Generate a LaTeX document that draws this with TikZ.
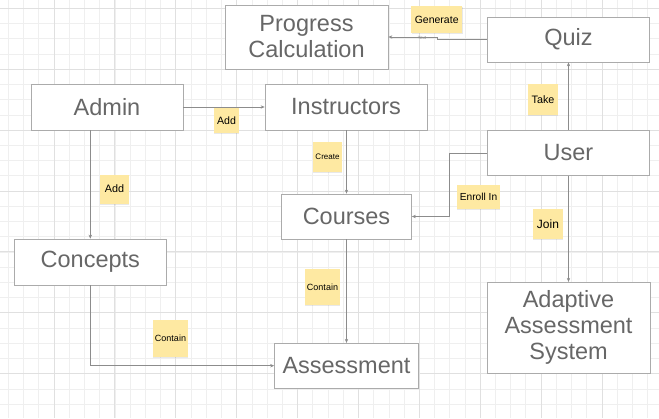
\documentclass[tikz,border=0pt]{standalone}
\usepackage{fontspec}
\setmainfont{Liberation Sans}
\usetikzlibrary{arrows.meta, positioning, shadows}
\definecolor{gridminor}{HTML}{EFEFEF}
\definecolor{gridmajor}{HTML}{E0E0E0}
\definecolor{boxline}{HTML}{ABABAB}
\definecolor{boxtext}{HTML}{676767}
\definecolor{connline}{HTML}{8C8C8C}
\definecolor{notefill}{HTML}{FEE9A2}

\begin{document}
\begin{tikzpicture}[x=1pt,y=-1pt,
    box/.style={draw=boxline,fill=white,line width=0.7pt,text=boxtext,font=\fontsize{23.5}{26}\selectfont,align=center,inner sep=0pt},
    note/.style={fill=notefill,text=black,inner sep=0pt,drop shadow={shadow xshift=0.4pt,shadow yshift=-1.4pt,opacity=0.18}},
    conn/.style={draw=connline,line width=0.6pt,-{Stealth[length=4pt,width=3.4pt]}}]
    \useasboundingbox (0,0) rectangle (659,418);
    \fill[white] (0,0) rectangle (659,418);

    % background grid
    \foreach \i in {0,...,43} {
      \draw[gridminor,line width=0.6pt] (8.3+\i*15.22,0) -- (8.3+\i*15.22,418);
    }
    \foreach \i in {0,...,27} {
      \draw[gridminor,line width=0.6pt] (0,8.3+\i*15.22) -- (659,8.3+\i*15.22);
    }
    \foreach \i in {3,7,...,43} {
      \draw[gridmajor,line width=0.7pt] (8.3+\i*15.22,0) -- (8.3+\i*15.22,418);
    }
    \foreach \i in {0,4,...,27} {
      \draw[gridmajor,line width=0.7pt] (0,8.3+\i*15.22) -- (659,8.3+\i*15.22);
    }

    % entity boxes
    \node[box,minimum width=163pt,minimum height=64pt] (prog) at (306.5,37) {Progress\\Calculation};
    \node[box,minimum width=162pt,minimum height=45pt] (quiz) at (568.5,39.5) {Quiz};
    \node[box,minimum width=152pt,minimum height=46pt] (admin) at (107,107) {Admin};
    \node[box,minimum width=162pt,minimum height=46pt] (instr) at (346,107) {Instructors};
    \node[box,minimum width=162pt,minimum height=45pt] (user) at (568.5,153) {User};
    \node[box,minimum width=130pt,minimum height=45pt] (courses) at (346.5,216.5) {Courses};
    \node[box,minimum width=152pt,minimum height=46pt] (concepts) at (90.3,262) {Concepts};
    \node[box,minimum width=144pt,minimum height=45pt] (assess) at (346.5,365.7) {Assessment};
    \node[box,minimum width=163pt,minimum height=91pt] (adaptive) at (568.5,327.7) {Adaptive\\Assessment\\System};

    % connectors
    \draw[conn] (quiz.west) -- ++(-50,0) |- (prog.east);
    \draw[conn] (admin.east) -- (instr.west);
    \draw[conn] (concepts.north |- admin.south) -- (concepts.north);
    \draw[conn] (courses.north |- instr.south) -- (courses.north);
    \draw[conn] (user.west) -- (449.7,153) |- (courses.east);
    \draw[conn] (user.north) -- (quiz.south);
    \draw[conn] (user.south) -- (adaptive.north);
    \draw[conn] (courses.south) -- (assess.north);
    \draw[conn] (concepts.south) |- (assess.west);
    \node[text=connline,font=\fontsize{4.5}{5}\selectfont,inner sep=0.5pt] (txt) at (422,37.5) {Text};

    % sticky labels
    \node[note,minimum width=51pt,minimum height=27pt,font=\fontsize{10.5}{12}\selectfont] (generate) at (436.7,19.5) {Generate};
    \node[note,minimum width=25pt,minimum height=25pt,font=\fontsize{10.6}{12}\selectfont] (addinstr) at (226.5,120.5) {Add};
    \node[note,minimum width=29pt,minimum height=29pt,font=\fontsize{10.8}{12}\selectfont] (addconc) at (114.5,189) {Add};
    \node[note,minimum width=29pt,minimum height=30pt,font=\fontsize{8}{9}\selectfont] (create) at (327.5,157) {Create};
    \node[note,minimum width=43pt,minimum height=24pt,font=\fontsize{10.2}{12}\selectfont] (enroll) at (478.5,197) {Enroll In};
    \node[note,minimum width=30pt,minimum height=31pt,font=\fontsize{10.8}{12}\selectfont] (take) at (543,99.5) {Take};
    \node[note,minimum width=30pt,minimum height=30pt,font=\fontsize{12}{13}\selectfont] (join) at (548,224) {Join};
    \node[note,minimum width=35pt,minimum height=36pt,font=\fontsize{9}{10}\selectfont] (containa) at (322.5,287) {Contain};
    \node[note,minimum width=35pt,minimum height=37pt,font=\fontsize{9}{10}\selectfont] (containc) at (170.5,338.5) {Contain};
\end{tikzpicture}
\end{document}
